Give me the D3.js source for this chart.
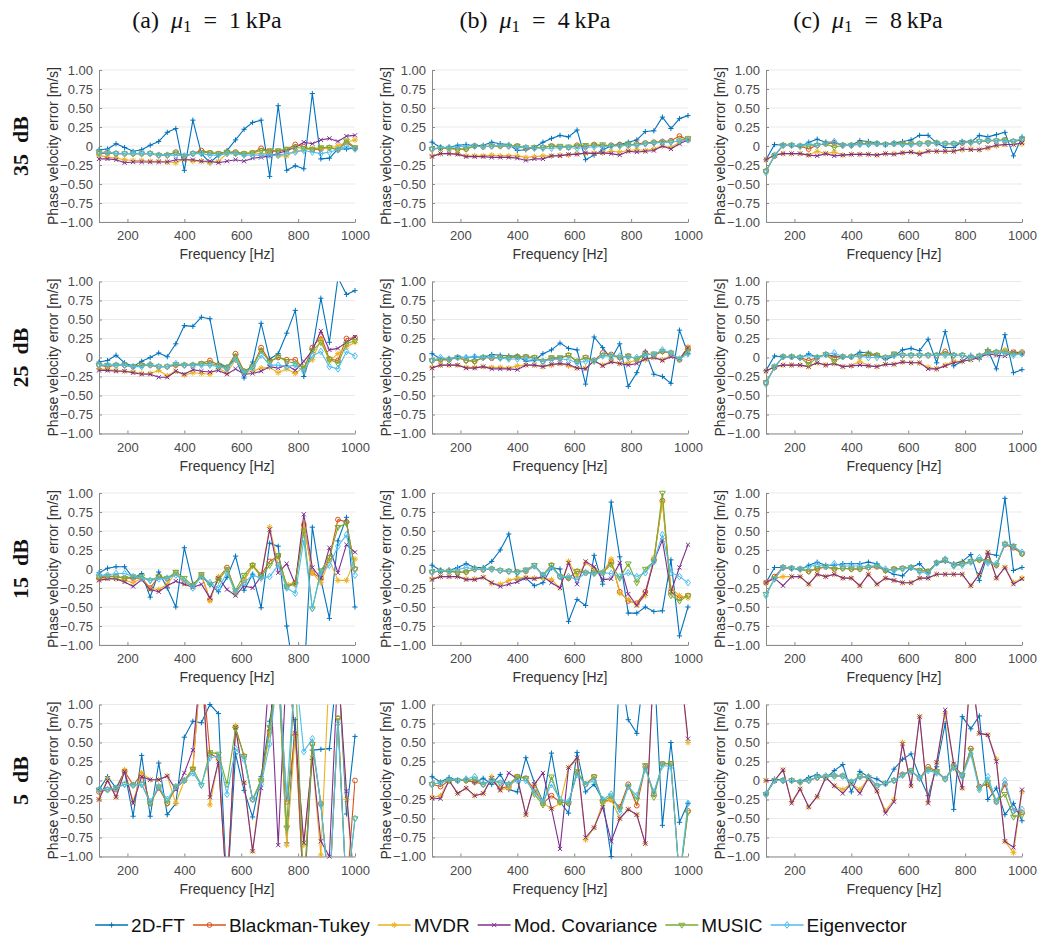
<!DOCTYPE html>
<html><head><meta charset="utf-8">
<script src="https://cdn.jsdelivr.net/npm/d3@7"></script>
<style>body{margin:0;background:#fff}svg{display:block}</style>
</head><body>
<svg id="chart" width="1050" height="947"></svg>
<script>
// ---------- categories / ticks ----------
const FREQ = [100,130,160,190,220,250,280,310,340,370,400,430,460,490,520,550,580,610,640,670,700,730,760,790,820,850,880,910,940,970,1000];
const SERIES = ["2D-FT","Blackman-Tukey","MVDR","Mod. Covariance","MUSIC","Eigenvector"];
const COL_LETTERS = ["a","b","c"];
const MU_VALUES = ["1","4","8"];
const ROW_LABELS = ["35 dB","25 dB","15 dB","5 dB"];
const Y_TICKS = [-1,-0.75,-0.5,-0.25,0,0.25,0.5,0.75,1];
const X_TICKS = [200,400,600,800,1000];

// ---------- (a) mu1 = 1 kPa ----------
const a35_ft = [-0.05,-0.04,0.03,-0.02,-0.07,-0.05,0.01,0.06,0.18,0.23,-0.32,0.34,-0.10,-0.22,-0.12,-0.06,0.08,0.22,0.31,0.34,-0.40,0.53,-0.32,-0.26,-0.30,0.69,-0.17,-0.16,-0.04,-0.04,-0.03];
const a35_bt = [-0.10,-0.09,-0.10,-0.10,-0.10,-0.10,-0.10,-0.12,-0.12,-0.08,-0.14,-0.10,-0.06,-0.09,-0.10,-0.08,-0.08,-0.10,-0.09,-0.03,-0.07,-0.07,-0.05,0.02,-0.01,-0.05,-0.04,-0.02,-0.05,0.05,-0.03];
const a35_mvdr = [-0.12,-0.15,-0.16,-0.18,-0.19,-0.19,-0.20,-0.20,-0.21,-0.22,-0.17,-0.20,-0.20,-0.22,-0.20,-0.10,-0.10,-0.11,-0.09,-0.10,-0.10,-0.13,-0.13,-0.07,-0.05,-0.04,-0.03,-0.03,0.0,0.05,0.08];
const a35_mc = [-0.17,-0.17,-0.18,-0.22,-0.21,-0.21,-0.21,-0.21,-0.21,-0.18,-0.18,-0.18,-0.20,-0.20,-0.22,-0.20,-0.18,-0.20,-0.16,-0.15,-0.13,-0.10,-0.06,-0.02,0.05,0.03,0.08,0.10,0.06,0.13,0.14];
const a35_music = [-0.08,-0.09,-0.10,-0.10,-0.10,-0.10,-0.10,-0.12,-0.12,-0.09,-0.13,-0.10,-0.08,-0.09,-0.10,-0.08,-0.09,-0.10,-0.09,-0.06,-0.06,-0.06,-0.04,-0.02,-0.03,-0.04,-0.02,-0.02,-0.05,0.07,-0.02];
const a35_ev = [-0.09,-0.08,-0.10,-0.10,-0.10,-0.10,-0.10,-0.12,-0.12,-0.12,-0.13,-0.10,-0.10,-0.12,-0.12,-0.10,-0.10,-0.12,-0.12,-0.12,-0.12,-0.12,-0.10,-0.08,-0.06,-0.08,-0.10,-0.08,-0.05,0.0,-0.04];

const a25_ft = [-0.06,-0.04,0.03,-0.07,-0.12,-0.05,0.0,0.06,0.01,0.18,0.42,0.41,0.53,0.51,-0.08,-0.12,-0.02,-0.27,-0.06,0.45,-0.02,0.05,0.32,0.62,-0.25,0.10,0.78,0.20,1.05,0.83,0.88];
const a25_bt = [-0.10,-0.12,-0.10,-0.10,-0.12,-0.10,-0.10,-0.12,-0.12,-0.10,-0.10,-0.10,-0.08,-0.04,-0.10,-0.14,0.05,-0.18,-0.12,0.13,-0.05,0.0,-0.03,-0.03,-0.15,0.13,0.28,-0.02,-0.04,0.25,0.26];
const a25_mvdr = [-0.15,-0.16,-0.17,-0.18,-0.19,-0.21,-0.21,-0.17,-0.24,-0.18,-0.23,-0.20,-0.21,-0.22,-0.14,-0.20,-0.03,-0.20,-0.18,-0.14,-0.13,-0.20,-0.15,-0.21,-0.12,-0.03,0.24,-0.05,0.05,0.14,0.20];
const a25_mc = [-0.17,-0.17,-0.18,-0.18,-0.20,-0.22,-0.22,-0.26,-0.26,-0.18,-0.22,-0.16,-0.18,-0.19,-0.17,-0.22,-0.15,-0.22,-0.21,-0.18,-0.12,-0.14,-0.10,-0.17,-0.05,0.09,0.35,0.10,0.12,0.20,0.27];
const a25_music = [-0.10,-0.10,-0.10,-0.10,-0.12,-0.10,-0.10,-0.12,-0.12,-0.09,-0.10,-0.10,-0.08,-0.08,-0.10,-0.13,0.02,-0.18,-0.12,0.09,-0.06,0.01,-0.05,-0.08,-0.14,0.09,0.20,-0.02,-0.08,0.18,0.22];
const a25_ev = [-0.10,-0.10,-0.10,-0.10,-0.12,-0.12,-0.09,-0.12,-0.12,-0.08,-0.10,-0.10,-0.10,-0.10,-0.12,-0.15,-0.02,-0.20,-0.14,0.03,-0.10,-0.10,-0.12,-0.10,-0.18,0.02,0.08,-0.12,-0.15,0.08,0.02];

const a15_ft = [-0.05,0.01,0.03,0.03,-0.12,-0.06,-0.37,-0.04,-0.25,-0.50,0.28,-0.20,-0.10,-0.20,-0.30,-0.11,0.17,-0.28,-0.07,-0.51,0.34,0.30,-0.75,-1.5,-1.5,0.55,-0.14,-0.65,0.37,0.68,-0.50];
const a15_bt = [-0.12,-0.10,-0.10,-0.12,-0.12,-0.12,-0.25,-0.10,-0.13,-0.05,-0.18,-0.22,-0.08,-0.40,-0.12,0.02,-0.30,-0.15,0.05,-0.08,0.10,0.17,-0.23,-0.18,0.58,-0.05,-0.12,0.15,0.65,0.62,0.0];
const a15_mvdr = [-0.14,-0.12,-0.13,-0.15,-0.18,-0.12,-0.26,-0.27,-0.20,-0.05,-0.18,-0.22,-0.08,-0.42,-0.10,-0.02,-0.33,-0.15,0.04,-0.10,0.55,0.05,-0.20,-0.18,0.60,-0.05,-0.18,0.12,-0.15,-0.15,0.13];
const a15_mc = [-0.15,-0.13,-0.13,-0.17,-0.23,-0.14,-0.27,-0.30,-0.22,-0.16,-0.20,-0.24,-0.20,-0.38,-0.12,-0.27,-0.35,-0.22,-0.25,-0.10,0.52,-0.05,0.07,-0.20,0.72,0.02,-0.12,0.28,-0.05,0.32,0.22];
const a15_music = [-0.10,-0.09,-0.10,-0.12,-0.10,-0.10,-0.15,-0.10,-0.12,-0.04,-0.12,-0.22,-0.07,-0.20,-0.15,0.0,-0.28,-0.08,0.05,-0.10,0.05,0.18,-0.23,-0.20,0.50,-0.52,-0.02,0.15,0.55,0.60,0.0];
const a15_ev = [-0.08,-0.08,-0.06,-0.06,-0.10,-0.12,-0.15,-0.13,-0.12,-0.08,-0.15,-0.25,-0.10,-0.18,-0.25,-0.05,-0.30,-0.18,-0.08,-0.12,-0.10,0.05,-0.25,-0.32,0.38,-0.52,-0.05,0.05,0.30,0.45,-0.08];

const a5_ft = [-0.12,0.05,-0.10,0.12,-0.47,0.33,-0.47,0.23,-0.45,-0.30,0.57,0.78,0.76,1.0,0.88,-1.5,0.35,-0.13,-0.48,0.05,0.78,1.5,-0.82,0.80,-1.6,0.40,0.41,0.42,1.6,-0.44,0.58];
const a5_bt = [-0.15,-0.12,-0.12,0.12,-0.06,0.08,-0.30,-0.10,-0.30,-0.10,0.0,0.15,1.6,0.35,0.30,-1.5,0.70,0.32,-0.25,0.0,0.65,1.5,-0.28,0.60,-1.5,0.48,-0.30,-1.5,0.82,-1.5,0.0];
const a5_mvdr = [-0.25,0.02,-0.22,0.14,-0.28,0.10,0.01,0.01,0.06,-0.30,0.0,0.16,1.6,-0.32,0.27,-1.5,0.72,-0.03,-0.93,0.0,0.62,1.6,-0.85,0.60,-0.85,0.28,-0.98,1.5,1.5,-0.25,-1.5];
const a5_mc = [-0.25,0.0,-0.22,0.12,-0.30,0.05,0.01,0.01,0.06,-0.12,0.10,0.40,1.6,-0.22,0.25,-1.5,0.70,-0.03,-0.93,-0.10,1.5,-0.85,1.6,0.62,-0.82,0.30,-0.80,-1.0,1.5,-0.14,-1.5];
const a5_music = [-0.12,-0.12,-0.10,-0.05,-0.06,-0.05,-0.30,-0.08,-0.30,-0.08,0.0,0.15,-0.06,0.37,0.35,-0.05,0.68,0.32,-0.25,0.0,0.70,1.5,-0.62,1.5,-1.5,0.48,-0.32,-1.5,0.82,-1.5,-0.5];
const a5_ev = [-0.12,-0.12,-0.10,-0.05,-0.06,-0.05,-0.28,-0.08,-0.25,-0.08,0.0,0.10,-0.06,0.30,0.32,-0.18,0.42,0.28,-0.25,-0.05,0.48,1.5,-0.22,1.5,0.38,0.55,-0.32,-1.5,0.75,-1.5,-0.5];

// ---------- (b) mu1 = 4 kPa ----------
const b35_ft = [0.05,-0.02,-0.02,0.01,0.02,0.0,0.01,0.05,0.03,0.02,-0.06,-0.05,-0.02,0.05,0.10,0.14,0.12,0.21,-0.18,-0.12,-0.05,0.0,0.02,0.05,0.08,0.19,0.20,0.38,0.23,0.36,0.40];
const b35_bt = [-0.04,-0.03,-0.03,-0.04,-0.04,0.0,-0.01,0.0,0.0,0.0,0.0,-0.03,-0.02,-0.02,0.0,-0.01,-0.02,0.01,-0.01,0.02,0.0,0.01,0.02,0.01,0.03,0.04,0.05,0.06,0.07,0.13,0.08];
const b35_mvdr = [-0.13,-0.10,-0.10,-0.10,-0.13,-0.13,-0.13,-0.12,-0.13,-0.13,-0.13,-0.15,-0.14,-0.13,-0.13,-0.12,-0.12,-0.10,-0.10,-0.09,-0.09,-0.07,-0.08,-0.06,-0.05,-0.06,-0.04,0.0,-0.02,0.05,0.10];
const b35_mc = [-0.14,-0.10,-0.10,-0.11,-0.14,-0.14,-0.14,-0.15,-0.15,-0.15,-0.16,-0.19,-0.17,-0.17,-0.13,-0.13,-0.11,-0.11,-0.09,-0.10,-0.09,-0.10,-0.12,-0.07,-0.08,-0.07,-0.06,0.0,-0.04,0.03,0.08];
const b35_music = [-0.04,-0.03,-0.03,-0.05,-0.04,0.0,-0.01,0.0,0.0,0.0,0.0,-0.02,-0.02,-0.02,0.0,0.0,-0.01,0.0,0.01,0.01,0.02,0.0,0.01,0.03,0.01,0.03,0.04,0.05,0.05,0.07,0.10];
const b35_ev = [-0.04,-0.02,-0.02,-0.01,0.0,0.0,-0.01,0.0,0.01,0.0,-0.02,-0.02,-0.03,-0.03,-0.03,-0.02,-0.02,-0.03,-0.02,-0.01,-0.01,0.0,0.0,0.01,0.01,0.03,0.04,0.05,0.05,0.07,0.08];

const b25_ft = [0.05,-0.02,-0.02,0.01,0.0,0.01,0.0,0.04,0.03,0.02,0.02,-0.05,-0.04,0.05,0.10,0.19,0.12,0.10,-0.35,0.27,0.13,-0.02,0.18,-0.38,-0.20,0.08,-0.22,-0.25,-0.34,0.36,0.05];
const b25_bt = [-0.04,-0.03,-0.03,0.0,-0.04,-0.05,0.0,-0.01,0.0,0.0,0.01,0.01,0.0,-0.05,-0.01,-0.01,0.03,-0.05,0.0,-0.04,0.06,0.04,0.0,0.02,-0.02,0.06,0.03,0.08,0.06,-0.03,0.12];
const b25_mvdr = [-0.13,-0.10,-0.10,-0.10,-0.13,-0.13,-0.12,-0.13,-0.13,-0.14,-0.11,-0.10,-0.10,-0.12,-0.10,-0.08,-0.11,-0.14,-0.14,-0.05,-0.10,-0.05,-0.08,-0.07,-0.03,-0.03,0.0,-0.03,0.03,-0.03,0.14];
const b25_mc = [-0.14,-0.10,-0.10,-0.10,-0.14,-0.14,-0.12,-0.15,-0.15,-0.15,-0.16,-0.10,-0.10,-0.12,-0.09,-0.08,-0.09,-0.14,-0.15,-0.04,-0.11,-0.06,-0.08,-0.10,-0.08,-0.02,0.0,-0.04,0.01,-0.02,0.13];
const b25_music = [-0.04,-0.03,-0.03,0.0,-0.04,-0.05,0.0,0.0,0.0,0.0,0.01,0.01,0.0,-0.05,0.0,0.0,0.03,-0.05,0.0,-0.05,0.03,0.02,0.0,0.02,-0.02,0.03,0.05,0.08,0.06,-0.02,0.08];
const b25_ev = [-0.04,0.0,-0.02,0.0,0.0,0.01,0.0,0.0,-0.01,-0.02,-0.02,-0.01,-0.03,-0.05,-0.03,-0.02,-0.03,-0.07,-0.05,-0.04,0.02,0.02,0.02,0.0,0.0,0.04,0.04,0.10,0.06,-0.02,0.05];

const b15_ft = [0.05,-0.02,-0.02,0.02,0.07,0.02,0.02,0.10,0.25,0.46,-0.14,-0.12,-0.22,-0.18,0.02,0.0,-0.69,-0.40,-0.48,0.18,-0.20,0.88,0.16,-0.58,-0.58,-0.50,-0.56,-0.55,0.12,-0.88,-0.50];
const b15_bt = [-0.04,-0.03,-0.03,-0.04,-0.04,0.0,-0.01,0.0,-0.02,-0.03,-0.04,-0.03,0.04,-0.08,0.05,-0.10,-0.12,-0.03,-0.05,-0.05,-0.05,0.10,-0.30,-0.42,-0.45,-0.30,0.12,0.90,-0.30,-0.38,-0.35];
const b15_mvdr = [-0.13,-0.10,-0.10,-0.10,-0.13,-0.13,-0.11,-0.19,-0.20,-0.15,-0.12,-0.11,-0.12,-0.12,-0.14,-0.25,0.10,-0.10,0.08,0.0,-0.05,0.13,-0.32,-0.40,-0.47,-0.35,0.15,0.88,-0.25,-0.35,-0.38];
const b15_mc = [-0.14,-0.10,-0.10,-0.10,-0.14,-0.14,-0.11,-0.18,-0.23,-0.20,-0.17,-0.12,-0.13,-0.10,-0.18,-0.25,0.08,-0.20,0.10,0.03,-0.14,-0.13,0.08,-0.33,-0.48,-0.32,0.10,0.38,-0.30,0.02,0.32];
const b15_music = [-0.04,-0.03,-0.03,-0.05,-0.04,0.0,-0.01,0.0,-0.02,-0.03,-0.04,-0.01,0.05,-0.08,0.05,-0.10,-0.12,-0.03,-0.05,-0.05,-0.05,0.06,-0.12,0.07,-0.18,0.0,0.10,1.00,-0.35,-0.42,-0.35];
const b15_ev = [-0.04,-0.02,-0.02,-0.01,0.02,0.0,0.0,0.0,-0.02,-0.03,-0.05,-0.02,0.04,-0.08,0.02,-0.10,-0.10,-0.14,-0.05,-0.06,-0.05,-0.06,-0.10,-0.05,-0.10,-0.05,0.10,0.45,-0.05,-0.10,-0.18];

const b5_ft = [0.05,-0.02,0.04,0.0,0.01,-0.03,0.03,-0.05,0.08,-0.12,-0.15,0.30,-0.03,-0.28,0.36,-0.28,-0.43,0.37,-0.15,-0.05,-0.25,-1.0,1.5,0.80,0.62,1.6,1.6,-0.59,0.50,-0.55,-0.30];
const b5_bt = [-0.05,-0.08,0.0,0.0,0.0,-0.02,-0.05,0.0,-0.10,-0.08,0.05,0.03,-0.12,-0.30,-0.20,-0.28,-0.30,0.10,-0.05,0.05,-0.28,-0.25,-0.35,-0.05,-0.33,0.18,-0.18,0.22,0.22,-1.3,-0.40];
const b5_mvdr = [-0.22,-0.20,0.0,-0.17,-0.10,-0.20,-0.17,0.05,-0.12,-0.10,0.05,-0.45,-0.05,-0.30,-0.37,-0.30,0.17,0.27,-0.78,-0.62,-0.30,-0.25,-0.50,-0.38,-0.45,-0.83,1.6,1.6,1.6,1.6,0.50];
const b5_mc = [-0.23,-0.24,0.0,-0.17,-0.10,-0.20,-0.17,0.03,-0.13,0.10,0.02,-0.45,-0.05,0.10,-0.37,-0.90,0.17,0.30,-0.75,-0.62,-0.35,-0.80,-0.50,-0.38,-0.45,-0.83,1.6,1.6,1.6,1.6,0.55];
const b5_music = [-0.05,-0.03,0.0,0.0,0.0,0.02,-0.05,0.0,-0.03,-0.05,0.05,0.03,-0.18,-0.32,0.05,-0.28,-0.30,0.12,-0.05,0.05,-0.28,-0.20,-0.38,-0.08,-0.25,0.20,-0.22,0.22,0.22,-1.3,-0.42];
const b5_ev = [-0.05,-0.03,0.02,0.0,0.02,0.05,-0.05,0.0,-0.03,-0.05,0.0,0.0,-0.15,-0.28,-0.05,-0.25,-0.28,0.08,-0.05,0.0,-0.25,-0.18,-0.42,-0.08,-0.20,0.15,-0.15,0.20,0.18,-1.3,-0.30];

// ---------- (c) mu1 = 8 kPa ----------
const c35_ft = [-0.18,0.02,0.01,0.01,-0.01,0.05,0.09,0.05,0.05,0.01,0.01,0.07,0.06,0.04,0.02,0.04,0.06,0.08,0.14,0.14,0.04,-0.02,-0.02,0.06,0.05,0.14,0.12,0.15,0.18,-0.13,0.12];
const c35_bt = [-0.33,-0.13,0.01,0.01,0.0,-0.04,0.01,0.03,0.04,0.01,0.01,0.03,0.03,0.03,0.02,0.03,0.03,0.03,0.03,0.04,0.04,0.03,0.03,0.04,0.05,0.06,0.07,0.07,0.08,0.06,0.08];
const c35_mvdr = [-0.18,-0.12,-0.10,-0.10,-0.10,-0.12,-0.07,-0.10,-0.08,-0.12,-0.11,-0.11,-0.11,-0.12,-0.10,-0.10,-0.09,-0.08,-0.09,-0.07,-0.07,-0.07,-0.07,-0.05,-0.04,-0.05,-0.03,0.0,0.02,0.02,0.03];
const c35_mc = [-0.18,-0.12,-0.10,-0.10,-0.10,-0.12,-0.13,-0.10,-0.13,-0.12,-0.11,-0.11,-0.11,-0.12,-0.10,-0.11,-0.09,-0.08,-0.11,-0.07,-0.07,-0.07,-0.07,-0.04,-0.05,-0.05,-0.02,0.01,0.02,0.02,0.04];
const c35_music = [-0.33,-0.13,0.01,0.01,0.0,0.0,0.01,0.03,-0.02,0.01,0.01,0.03,0.03,0.03,0.02,0.03,0.03,0.03,0.03,0.04,0.04,0.03,0.03,0.05,0.05,0.06,0.07,0.07,0.08,0.06,0.09];
const c35_ev = [-0.35,-0.12,0.01,0.01,0.0,0.03,0.01,0.04,0.06,0.01,0.01,0.02,0.02,0.03,0.02,0.03,0.02,0.02,0.03,0.03,0.04,0.03,0.03,0.05,0.05,0.06,0.08,0.07,0.07,0.06,0.10];

const c25_ft = [-0.17,0.02,0.01,0.01,-0.01,0.05,0.0,0.04,0.02,0.01,0.01,0.07,0.06,0.03,-0.03,0.02,0.10,0.12,0.09,0.24,-0.07,0.34,-0.11,-0.05,0.03,-0.02,0.10,-0.15,0.30,-0.20,-0.16];
const c25_bt = [-0.33,-0.13,0.01,0.01,0.0,-0.04,0.0,0.04,0.0,0.01,0.01,0.02,0.03,0.03,0.0,0.04,0.03,0.03,0.03,0.03,0.03,0.08,0.03,0.03,0.0,0.02,0.08,0.07,0.08,0.07,0.07];
const c25_mvdr = [-0.18,-0.12,-0.10,-0.10,-0.10,-0.12,-0.07,-0.10,-0.08,-0.12,-0.11,-0.05,-0.11,-0.12,-0.09,-0.09,-0.06,-0.07,-0.07,-0.13,-0.15,-0.10,-0.05,-0.05,-0.03,0.0,0.05,0.05,0.10,0.05,0.07];
const c25_mc = [-0.18,-0.12,-0.10,-0.10,-0.10,-0.12,-0.07,-0.10,-0.08,-0.12,-0.11,-0.10,-0.11,-0.12,-0.09,-0.09,-0.06,-0.07,-0.07,-0.15,-0.15,-0.11,-0.07,-0.05,-0.03,0.0,0.05,0.03,0.02,0.07,0.05];
const c25_music = [-0.33,-0.13,0.01,0.01,0.0,-0.09,0.0,0.04,-0.05,0.01,0.01,0.02,0.05,0.03,0.0,0.05,0.03,0.03,0.03,0.03,0.03,0.05,0.03,0.03,0.0,0.02,0.08,0.07,0.06,0.05,0.05];
const c25_ev = [-0.35,-0.12,0.01,0.01,0.0,0.03,0.0,0.04,0.06,0.01,0.01,0.02,0.0,0.0,0.0,0.03,0.03,0.03,0.03,0.03,0.03,0.03,0.03,0.03,0.0,0.02,0.06,0.07,0.06,0.03,0.05];

const c15_ft = [-0.18,0.02,0.02,0.01,-0.01,0.05,0.09,0.05,0.05,0.07,0.07,0.07,0.09,0.07,-0.02,-0.07,-0.09,0.02,0.07,-0.05,0.08,0.10,0.07,0.10,0.19,-0.15,0.20,0.18,0.93,-0.02,0.02];
const c15_bt = [-0.18,-0.10,0.02,0.01,0.0,-0.03,0.0,0.03,0.0,0.01,0.0,0.0,0.02,0.03,-0.02,0.0,0.01,0.02,-0.02,-0.03,0.08,0.12,0.05,0.07,0.10,0.12,0.12,0.05,0.32,0.28,0.20];
const c15_mvdr = [-0.18,-0.12,-0.10,-0.10,-0.10,-0.20,-0.07,-0.10,-0.07,-0.12,-0.12,-0.22,-0.07,-0.20,-0.12,-0.15,-0.18,-0.18,-0.12,-0.12,-0.07,-0.07,-0.07,-0.07,-0.22,-0.07,0.22,-0.12,0.02,-0.18,-0.12];
const c15_mc = [-0.18,-0.12,-0.22,-0.10,-0.10,-0.20,-0.07,-0.10,-0.07,-0.12,-0.12,-0.22,-0.07,-0.20,-0.12,-0.15,-0.18,-0.18,-0.12,-0.12,-0.07,-0.07,-0.07,-0.07,-0.22,-0.07,0.22,-0.12,0.02,-0.20,-0.13];
const c15_music = [-0.33,-0.13,0.02,0.01,0.0,-0.03,0.01,0.03,0.0,0.01,0.0,0.0,0.02,0.04,-0.02,0.0,0.01,0.02,-0.02,-0.03,0.08,0.12,0.05,0.07,0.10,0.12,0.10,0.05,0.33,0.30,0.20];
const c15_ev = [-0.35,-0.13,0.02,0.01,0.0,0.03,0.06,0.03,0.07,0.04,0.04,0.04,0.03,0.05,0.0,-0.02,0.0,0.02,-0.04,-0.06,0.08,0.13,0.04,0.05,0.09,0.15,0.08,0.07,0.33,0.30,0.22];

const c5_ft = [-0.18,0.02,0.0,0.0,-0.02,0.04,0.08,0.03,0.13,0.21,-0.15,0.12,0.05,0.02,-0.05,0.15,0.28,0.35,0.05,-0.20,0.18,0.75,-0.38,0.84,0.68,0.85,-0.25,-0.10,-0.45,-0.30,-0.53];
const c5_bt = [-0.18,0.0,0.0,0.0,-0.02,0.0,0.04,0.05,0.06,0.06,-0.02,0.05,0.04,-0.07,-0.04,0.0,0.08,0.13,0.03,0.18,0.12,0.02,0.20,0.07,0.42,-0.08,-0.05,-0.28,-0.05,-0.40,-0.42];
const c5_mvdr = [0.0,0.0,0.14,-0.28,-0.11,-0.35,-0.21,0.04,-0.07,-0.12,-0.04,-0.12,0.03,-0.14,-0.40,-0.25,0.50,-0.07,0.84,-0.28,0.24,0.88,0.20,-0.10,1.5,0.62,0.60,0.28,-0.80,-0.95,-0.15];
const c5_mc = [0.0,0.0,0.14,-0.30,-0.11,-0.35,-0.21,0.04,-0.07,-0.17,-0.04,-0.17,0.03,-0.14,-0.43,-0.28,0.48,-0.07,0.84,-0.30,0.24,0.93,0.22,-0.10,1.5,0.62,0.60,0.25,-0.80,-0.88,-0.12];
const c5_music = [-0.18,0.0,0.0,0.0,-0.02,0.0,0.04,0.05,0.06,0.06,-0.02,0.06,0.04,-0.07,-0.04,0.0,0.07,0.13,0.03,0.15,0.12,0.02,0.17,0.07,0.40,-0.10,-0.02,-0.27,-0.18,-0.48,-0.45];
const c5_ev = [-0.18,0.0,0.0,0.0,-0.02,0.0,0.05,0.06,0.06,0.06,-0.02,0.05,0.05,-0.07,-0.04,0.0,0.07,0.12,0.03,0.13,0.10,0.02,0.18,0.05,0.35,-0.12,0.05,-0.28,0.0,-0.40,-0.38];

// ---------- assemble panels (row = SNR, col = mu1) ----------
const PANELS = [
  [[a35_ft,a35_bt,a35_mvdr,a35_mc,a35_music,a35_ev],[b35_ft,b35_bt,b35_mvdr,b35_mc,b35_music,b35_ev],[c35_ft,c35_bt,c35_mvdr,c35_mc,c35_music,c35_ev]],
  [[a25_ft,a25_bt,a25_mvdr,a25_mc,a25_music,a25_ev],[b25_ft,b25_bt,b25_mvdr,b25_mc,b25_music,b25_ev],[c25_ft,c25_bt,c25_mvdr,c25_mc,c25_music,c25_ev]],
  [[a15_ft,a15_bt,a15_mvdr,a15_mc,a15_music,a15_ev],[b15_ft,b15_bt,b15_mvdr,b15_mc,b15_music,b15_ev],[c15_ft,c15_bt,c15_mvdr,c15_mc,c15_music,c15_ev]],
  [[a5_ft,a5_bt,a5_mvdr,a5_mc,a5_music,a5_ev],[b5_ft,b5_bt,b5_mvdr,b5_mc,b5_music,b5_ev],[c5_ft,c5_bt,c5_mvdr,c5_mc,c5_music,c5_ev]]
];

// ---------- style ----------
const COLORS = ["#0072BD","#D95319","#EDB120","#7E2F8E","#77AC30","#4DBEEE"];
const MARKER_PATHS = [
  "M-2.6,0H2.6M0,-2.6V2.6",
  null,
  "M-3,0H3M0,-3V3M-2.1,-2.1L2.1,2.1M-2.1,2.1L2.1,-2.1",
  "M-2.1,-2.1L2.1,2.1M-2.1,2.1L2.1,-2.1",
  "M-2.9,-1.7L2.9,-1.7L0,3.2Z",
  "M0,-3.3L2.4,0L0,3.3L-2.4,0Z"
];
const SANS = "'Liberation Sans', Arial, Helvetica, sans-serif";
const SERIF = "'Liberation Serif', 'Times New Roman', serif";

const svg = d3.select("#chart");
svg.append("rect").attr("width",1050).attr("height",947).attr("fill","#fff");

const colLeft = [99, 432, 766];
const rowTop = [70, 281.5, 493, 704.5];
const plotW = 256, plotH = 152;

const x = d3.scaleLinear().domain([100,1000]).range([0,plotW]);
const y = d3.scaleLinear().domain([-1,1]).range([plotH,0]);
const fmtY = v => v === 0 ? "0" : d3.format(".2f")(v);
const fmtX = d3.format("d");

function drawMarker(sel, k, color) {
  if (k === 1) {
    sel.append("circle").attr("r",2.4).attr("fill","none").attr("stroke",color).attr("stroke-width",1);
  } else {
    sel.append("path").attr("d",MARKER_PATHS[k]).attr("fill","none").attr("stroke",color).attr("stroke-width",1);
  }
}

PANELS.forEach((row, r) => {
  row.forEach((series, c) => {
    const g = svg.append("g").attr("transform",`translate(${colLeft[c]},${rowTop[r]})`);
    const cid = `clip-${r}-${c}`;
    g.append("clipPath").attr("id",cid).append("rect").attr("x",0).attr("y",0).attr("width",plotW).attr("height",plotH);

    g.append("g").selectAll("line").data(Y_TICKS).join("line")
      .attr("x1",0).attr("x2",plotW).attr("y1",d=>y(d)).attr("y2",d=>y(d))
      .attr("stroke","#e3e3e3").attr("stroke-width",0.8);

    const ya = g.append("g").call(d3.axisLeft(y).tickValues(Y_TICKS).tickFormat(fmtY).tickSizeInner(-3).tickSizeOuter(0).tickPadding(6));
    const xa = g.append("g").attr("transform",`translate(0,${plotH})`)
      .call(d3.axisBottom(x).tickValues(X_TICKS).tickFormat(fmtX).tickSizeInner(-3).tickSizeOuter(0).tickPadding(9));
    [ya, xa].forEach(a => {
      a.select(".domain").attr("stroke","#8a8a8a");
      a.selectAll(".tick line").attr("stroke","#8a8a8a");
      a.selectAll(".tick text").attr("fill","#4a4a4a").style("font-family",SANS).style("font-size","13px");
    });

    g.append("text").attr("transform",`translate(-41,${plotH/2}) rotate(-90)`)
      .attr("text-anchor","middle").attr("fill","#333").style("font-family",SANS).style("font-size","14px")
      .text("Phase velocity error [m/s]");
    g.append("text").attr("x",plotW/2).attr("y",plotH+37)
      .attr("text-anchor","middle").attr("fill","#333").style("font-family",SANS).style("font-size","14px")
      .text("Frequency [Hz]");

    const line = d3.line().x((d,i)=>x(FREQ[i])).y(d=>y(d));
    const plot = g.append("g");
    series.forEach((vals, k) => {
      plot.append("path").datum(vals).attr("d",line).attr("clip-path",`url(#${cid})`)
        .attr("fill","none").attr("stroke",COLORS[k]).attr("stroke-width",1.1).attr("stroke-linejoin","round");
      vals.forEach((v, i) => {
        if (v >= -1 && v <= 1) {
          const m = plot.append("g").attr("transform",`translate(${x(FREQ[i])},${y(v)})`);
          drawMarker(m, k, COLORS[k]);
        }
      });
    });
  });
});

const titleX = [207, 535, 868];
COL_LETTERS.forEach((L, c) => {
  const t = svg.append("text").attr("x",titleX[c]).attr("y",28).attr("text-anchor","middle")
    .attr("fill","#111").style("font-family",SERIF).style("font-size","24px");
  t.append("tspan").text(`(${L})\u2002`);
  t.append("tspan").attr("font-style","italic").text("\u03bc");
  t.append("tspan").attr("font-size","17px").attr("dy",4).text("1");
  t.append("tspan").attr("dy",-4).text(`\u2002=\u2002${MU_VALUES[c]}\u2009kPa`);
});

ROW_LABELS.forEach((lab, r) => {
  svg.append("text").attr("transform",`translate(28,${rowTop[r]+plotH/2}) rotate(-90)`)
    .attr("text-anchor","middle").attr("fill","#111").style("font-family",SERIF)
    .style("font-size","22px").style("font-weight","bold").text(lab.replace(" ","\u2002"));
});

const leg = svg.append("g");
let lx = 0;
SERIES.forEach((name, k) => {
  const it = leg.append("g").attr("transform",`translate(${lx},0)`);
  it.append("line").attr("x1",0).attr("x2",33).attr("y1",0).attr("y2",0).attr("stroke",COLORS[k]).attr("stroke-width",1.3);
  drawMarker(it.append("g").attr("transform","translate(16.5,0)"), k, COLORS[k]);
  const tx = it.append("text").attr("x",36).attr("y",0).attr("dy","0.35em").attr("fill","#111")
    .style("font-family",SANS).style("font-size","19px").text(name);
  lx += 36 + tx.node().getComputedTextLength() + 8;
});
lx -= 8;
leg.attr("transform",`translate(${501 - lx/2},925)`);
</script>
</body></html>
